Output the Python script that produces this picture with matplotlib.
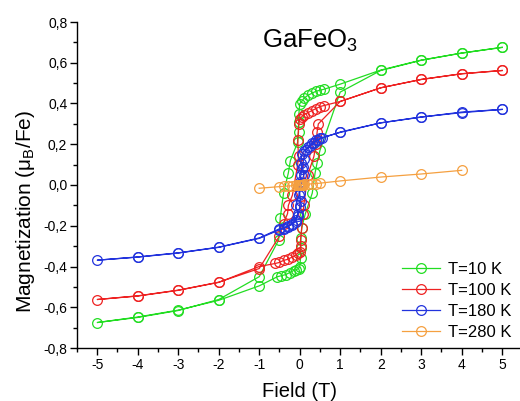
import matplotlib
matplotlib.use('Agg')
import matplotlib.pyplot as plt
from matplotlib.ticker import MultipleLocator, FuncFormatter

plt.rcParams['font.family'] = ['Liberation Sans', 'DejaVu Sans']
plt.rcParams['mathtext.default'] = 'regular'
plt.rcParams['axes.unicode_minus'] = False

# hysteresis loops, descending branch (+5 -> -5) followed by ascending branch (-5 -> +5)
field_10K = [5, 4, 3, 2, 1, 0.6, 0.5, 0.4, 0.3, 0.2, 0.1, 0.05, 0, -0.02, -0.03, -0.03, -0.05,
             -0.23, -0.28, -0.4, -0.48, -0.52, -1, -2, -3, -4, -5,
             -4, -3, -2, -1, -0.55, -0.45, -0.35, -0.25, -0.15, -0.08, -0.03, 0, 0.02, 0.03, 0.03,
             0.05, 0.14, 0.31, 0.38, 0.43, 0.5, 1, 2, 3, 4, 5]
m_10K = [0.676, 0.647, 0.613, 0.564, 0.495, 0.47, 0.465, 0.46, 0.45, 0.44, 0.425, 0.41, 0.40, 0.35, 0.31, 0.26, 0.21,
         0.12, 0.06, -0.04, -0.16, -0.27, -0.45, -0.562, -0.616, -0.65, -0.675,
         -0.648, -0.614, -0.566, -0.495, -0.45, -0.445, -0.44, -0.43, -0.42, -0.415, -0.41, -0.40, -0.36, -0.31, -0.26,
         -0.21, -0.14, -0.04, 0.06, 0.11, 0.17, 0.456, 0.562, 0.612, 0.648, 0.675]

field_100K = [5, 4, 3, 2, 1, 0.6, 0.5, 0.4, 0.3, 0.2, 0.1, 0.05, 0, -0.02, -0.05, -0.03, -0.05,
              -0.18, -0.28, -0.3, -0.4, -0.5, -1, -2, -3, -4, -5,
              -4, -3, -2, -1, -0.6, -0.5, -0.4, -0.3, -0.2, -0.1, -0.05, 0, 0.02, 0.02, 0.05,
              0.08, 0.1, 0.2, 0.35, 0.4, 0.43, 0.46, 1, 2, 3, 4, 5]
m_100K = [0.562, 0.546, 0.518, 0.477, 0.41, 0.39, 0.385, 0.375, 0.365, 0.355, 0.345, 0.335, 0.325, 0.30, 0.22, 0.14, 0.10,
          -0.05, -0.10, -0.14, -0.19, -0.25, -0.41, -0.477, -0.516, -0.544, -0.562,
          -0.545, -0.517, -0.478, -0.40, -0.385, -0.38, -0.37, -0.365, -0.355, -0.345, -0.335, -0.33, -0.30, -0.27, -0.21,
          -0.14, -0.10, 0.05, 0.14, 0.20, 0.26, 0.30, 0.41, 0.477, 0.518, 0.546, 0.562]

field_180K = [5, 4, 3, 2, 1, 0.5, 0.4, 0.3, 0.2, 0.1, 0.05, 0.03, 0.05, 0.03, 0, -0.02, -0.1, -0.05, -0.1,
              -0.2, -0.3, -0.4, -0.5, -1, -2, -3, -4, -5,
              -4, -3, -2, -1, -0.5, -0.4, -0.3, -0.2, -0.1, -0.05, 0, 0.02, 0, 0.05, 0.1, 0.07, 0.1,
              0.15, 0.25, 0.35, 0.45, 0.55, 1, 2, 3, 4, 5]
m_180K = [0.371, 0.358, 0.333, 0.305, 0.258, 0.23, 0.22, 0.205, 0.185, 0.165, 0.15, 0.11, 0.08, 0.05, 0.015, -0.05, -0.10, -0.14, -0.18,
          -0.195, -0.20, -0.21, -0.215, -0.26, -0.305, -0.333, -0.353, -0.369,
          -0.354, -0.334, -0.306, -0.262, -0.22, -0.215, -0.205, -0.19, -0.17, -0.15, -0.11, -0.08, -0.04, 0.01, 0.05, 0.09, 0.13,
          0.17, 0.19, 0.205, 0.22, 0.23, 0.26, 0.305, 0.334, 0.355, 0.371]

field_280K = [-1, -0.5, -0.4, -0.3, -0.2, -0.1, -0.05, -0.03, -0.02, -0.01, 0, 0.01, 0.02, 0.03, 0.04, 0.05,
              0.07, 0.1, 0.2, 0.3, 0.4, 0.5, 1, 2, 3, 4]
m_280K = [-0.016, -0.008, -0.007, -0.005, -0.004, -0.002, -0.001, -0.001, 0, 0, 0, 0, 0.001, 0.001, 0.001, 0.002,
          0.002, 0.003, 0.004, 0.006, 0.007, 0.009, 0.02, 0.039, 0.054, 0.072]

labels = ['T=10 K', 'T=100 K', 'T=180 K', 'T=280 K']
colors = ['#22dd22', '#ee2222', '#2233dd', '#f5a040']

fig = plt.figure(figsize=(5.2, 4.01), dpi=100)
ax = fig.add_axes([77 / 520, 53 / 401, 443 / 520, 326 / 401])

series = [(field_10K, m_10K), (field_100K, m_100K), (field_180K, m_180K), (field_280K, m_280K)]
for (h, m), lab, c in zip(series, labels, colors):
    ax.plot(h, m, '-o', color=c, lw=0.9, ms=7, mfc='none', mec=c, mew=0.9, label=lab)

ax.set_xlim(-5.5, 5.44)
ax.set_ylim(-0.8, 0.8)
ax.xaxis.set_major_locator(MultipleLocator(1))
ax.xaxis.set_minor_locator(MultipleLocator(0.5))
ax.yaxis.set_major_locator(MultipleLocator(0.2))
ax.yaxis.set_minor_locator(MultipleLocator(0.1))
ax.yaxis.set_major_formatter(FuncFormatter(lambda v, p: f'{v:.1f}'.replace('.', ',').replace('-0,0', '0,0')))
ax.xaxis.set_major_formatter(FuncFormatter(lambda v, p: f'{v:.0f}'))
ax.tick_params(which='major', direction='out', length=5, width=1, labelsize=10, colors='black', pad=2)
ax.tick_params(which='minor', direction='out', length=3, width=1)

ax.spines['top'].set_visible(False)
ax.spines['right'].set_visible(False)
for s in ['left', 'bottom']:
    ax.spines[s].set_linewidth(1)

ax.set_xlabel('Field (T)', fontsize=14.5)
ax.set_ylabel('Magnetization (μ$_B$/Fe)', fontsize=15)
ax.xaxis.set_label_coords(0.503, -0.105)
ax.yaxis.set_label_coords(-0.09, 0.42)

ax.text(-0.93, 0.673, 'GaFeO$_3$', fontsize=18.5, ha='left', va='baseline')

ax.legend(loc='lower right', bbox_to_anchor=(1.0, 0.0), frameon=False, fontsize=12,
          handlelength=2.3, handletextpad=0.5, labelspacing=0.36, borderaxespad=0.1)

fig.savefig('out.png', dpi=100)
